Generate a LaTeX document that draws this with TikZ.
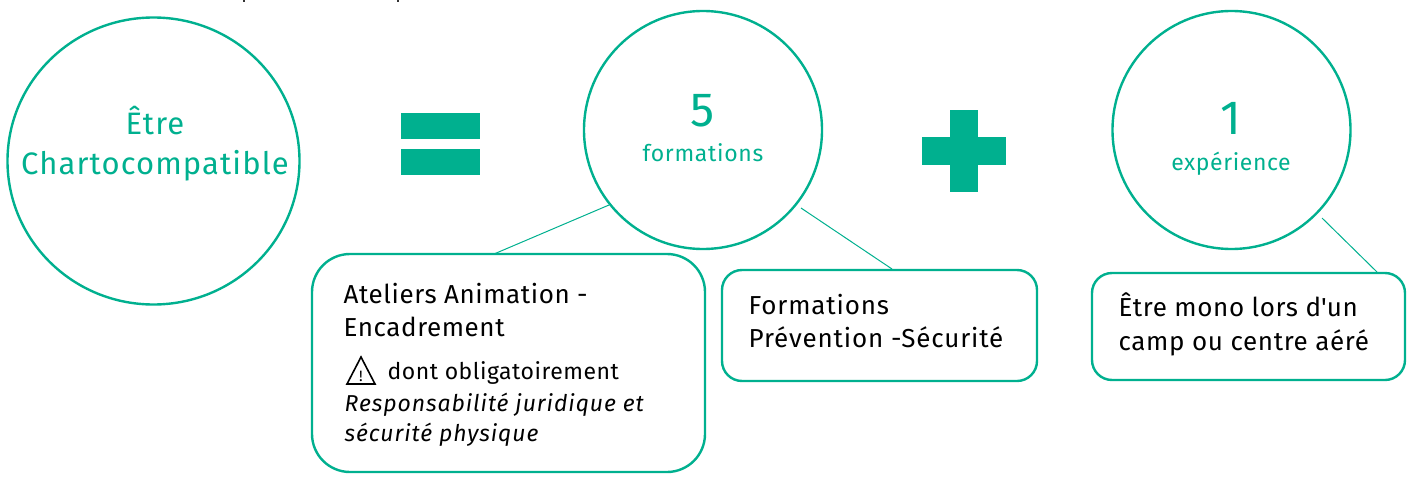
\documentclass[tikz,border=0pt]{standalone}
\usetikzlibrary{shapes.geometric}
\usepackage{fontspec}
\setmainfont{Fira Sans}
\newfontfamily\quotefont{Fira Sans}[Mapping=]
\definecolor{gr}{HTML}{00B08F}
\newcommand{\fsz}[3]{\fontsize{#1}{#1}\selectfont#3\addfontfeature{LetterSpace=#2}}
\tikzset{
 bub/.style={circle,draw=gr,line width=2.4pt,inner sep=0pt,outer sep=0pt},
 box/.style={rectangle,draw=gr,line width=2.4pt,fill=white,anchor=north west,inner sep=0pt,outer sep=0pt},
 lnk/.style={draw=gr,line width=1pt},
 bar/.style={fill=gr,draw=none,inner sep=0pt,outer sep=0pt,rectangle},
 blk/.style={anchor=base west,inner sep=0pt,text=black},
 grn/.style={anchor=base,inner sep=0pt,text=gr},
}
\begin{document}
\begin{tikzpicture}[x=1pt,y=-1pt]
\useasboundingbox (0,0) rectangle (1408,490);
\node[ellipse,draw=gr,line width=2.4pt,inner sep=0pt,outer sep=0pt,minimum width=292pt,minimum height=287pt] (c1) at (153.5,161) {};
\node[bub,minimum size=238pt] (c2) at (703,130) {};
\node[bub,minimum size=238pt] (c3) at (1231.5,130) {};
\node[grn,font=\fsz{31}{3.6}{}] (t1) at (155,134) {Être};
\node[grn,font=\fsz{31}{3.6}{}] (t2) at (155,174) {Chartocompatible};
\node[grn,font=\fsz{48}{0}{}] (n5) at (703,126) {5};
\node[grn,font=\fsz{23}{3}{}] (t5) at (703,161) {formations};
\node[grn,font=\fsz{48}{0}{}] (n1) at (1231,134) {1};
\node[grn,font=\fsz{23}{2.6}{}] (t6) at (1231,170) {expérience};
\node[bar,minimum width=79pt,minimum height=26pt] (e1) at (440.5,126) {};
\node[bar,minimum width=79pt,minimum height=26pt] (e2) at (440.5,162) {};
\node[bar,minimum width=84pt,minimum height=28pt] (p1) at (963.5,151) {};
\node[bar,minimum width=28pt,minimum height=82pt] (p2) at (963.5,151) {};
\node[box,rounded corners=38pt,minimum width=393pt,minimum height=218pt] (b1) at (312,254) {};
\node[box,rounded corners=20pt,minimum width=315pt,minimum height=111pt] (b2) at (722,270) {};
\node[box,rounded corners=20pt,minimum width=313pt,minimum height=107pt] (b3) at (1092,273) {};
\coordinate (a1) at (609,205); \coordinate (a2) at (494,254);
\coordinate (a3) at (801,208); \coordinate (a4) at (892,269);
\coordinate (a5) at (1322,218); \coordinate (a6) at (1377,272);
\draw[lnk] (a1) -- (a2);
\draw[lnk] (a3) -- (a4);
\draw[lnk] (a5) -- (a6);
\node[blk,font=\fsz{26}{2.2}{}] (l1) at (343.5,303) {Ateliers Animation -};
\node[blk,font=\fsz{26}{2.2}{}] (l2) at (343.5,336) {Encadrement};
\node[blk,font=\fsz{23}{2.2}{}] (l3) at (387.5,379) {dont obligatoirement};
\draw[line width=1.6pt,line join=miter,black] (361,357) -- (375,384) -- (347,384) -- cycle;
\node[anchor=base,inner sep=0pt,font=\fsz{15}{0}{}] (wx) at (361,381.5) {!};
\node[blk,font=\fsz{23}{4}{\itshape}] (l4) at (344.5,411) {Responsabilité juridique et};
\node[blk,font=\fsz{23}{4}{\itshape}] (l5) at (344.5,441) {sécurité physique};
\node[blk,font=\fsz{26}{3.2}{}] (l6) at (748.5,314) {Formations};
\node[blk,font=\fsz{26}{3.2}{}] (l7) at (748.5,347) {Prévention -Sécurité};
\node[blk,font=\fsz{26}{2.4}{}] (l8) at (1118.5,316) {Être mono lors d{\quotefont\addfontfeature{LetterSpace=2.4}'}un};
\node[blk,font=\fsz{26}{2.4}{}] (l9) at (1118.5,350) {camp ou centre aéré};
\fill[black!80] (242.5,0) rectangle (244.5,1.5);
\fill[black!80] (396.5,0) rectangle (398.5,1.5);
\end{tikzpicture}
\end{document}
